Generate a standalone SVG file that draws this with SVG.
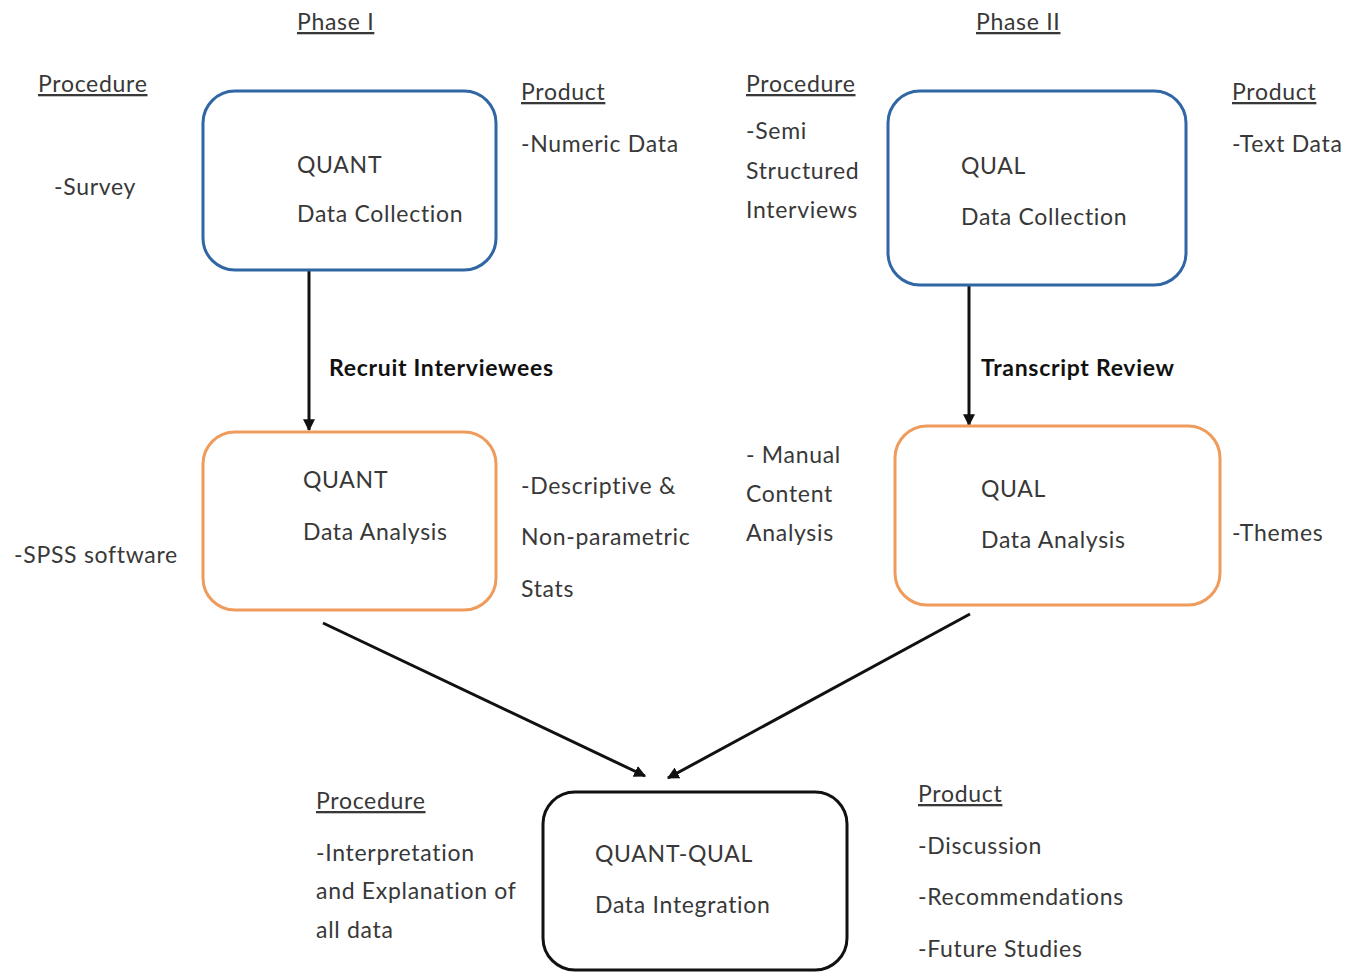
<svg xmlns="http://www.w3.org/2000/svg" width="1359" height="972" viewBox="0 0 1359 972">
<style>
text{font-family:Lato,"Open Sans","Liberation Sans",sans-serif;font-size:23px;letter-spacing:0.7px;fill:#383838}
.u{text-decoration:underline}
.b{font-weight:bold;fill:#111}
.blue{fill:#fff;stroke:#2f66a3;stroke-width:3}
.orange{fill:#fff;stroke:#ee9b5c;stroke-width:3}
.black{fill:#fff;stroke:#111;stroke-width:3}
.c{stroke:#111;stroke-width:3;fill:none;marker-end:url(#ah)}
</style>
<defs>
<marker id="ah" viewBox="0 0 10 10" refX="9" refY="5" markerWidth="4" markerHeight="4" orient="auto" markerUnits="strokeWidth">
<path d="M0,0 L10,5 L0,10 z" fill="#111"/>
</marker>
</defs>
<rect width="1359" height="972" fill="#fff"/>
<g id="headings">
<text x="297" y="30" class="u">Phase I</text>
<text x="976" y="30" class="u">Phase II</text>
</g>
<g id="annotations">
<text x="38" y="92" class="u">Procedure</text>
<text x="54" y="195">-Survey</text>
<text x="521" y="100" class="u">Product</text>
<text x="521" y="152">-Numeric Data</text>
<text x="746" y="92" class="u">Procedure</text>
<text x="746" y="139">-Semi</text>
<text x="746" y="179">Structured</text>
<text x="746" y="218">Interviews</text>
<text x="1232" y="100" class="u">Product</text>
<text x="1232" y="152">-Text Data</text>
<text x="14" y="563">-SPSS software</text>
<text x="521" y="494">-Descriptive &amp;</text>
<text x="521" y="545">Non-parametric</text>
<text x="521" y="597">Stats</text>
<text x="746" y="463">- Manual</text>
<text x="746" y="502">Content</text>
<text x="746" y="541">Analysis</text>
<text x="1232" y="541">-Themes</text>
<text x="316" y="809" class="u">Procedure</text>
<text x="316" y="861">-Interpretation</text>
<text x="316" y="899">and Explanation of</text>
<text x="316" y="938">all data</text>
<text x="918" y="802" class="u">Product</text>
<text x="918" y="854">-Discussion</text>
<text x="918" y="905">-Recommendations</text>
<text x="918" y="957">-Future Studies</text>
</g>
<g id="connectors">
<line x1="309" y1="270" x2="309" y2="430" class="c"/>
<line x1="969" y1="285" x2="969" y2="425" class="c"/>
<line x1="323" y1="623" x2="645" y2="776" class="c"/>
<line x1="970" y1="614" x2="668" y2="778" class="c"/>
<text x="329" y="376" class="b">Recruit Interviewees</text>
<text x="981" y="376" class="b">Transcript Review</text>
</g>
<g id="quant-collection">
<rect x="203" y="91" width="293" height="179" rx="32" class="blue"/>
<text x="297" y="173">QUANT</text>
<text x="297" y="222">Data Collection</text>
</g>
<g id="qual-collection">
<rect x="888" y="91" width="298" height="194" rx="32" class="blue"/>
<text x="961" y="174">QUAL</text>
<text x="961" y="225">Data Collection</text>
</g>
<g id="quant-analysis">
<rect x="203" y="432" width="293" height="178" rx="32" class="orange"/>
<text x="303" y="488">QUANT</text>
<text x="303" y="540">Data Analysis</text>
</g>
<g id="qual-analysis">
<rect x="895" y="426" width="325" height="179" rx="32" class="orange"/>
<text x="981" y="497">QUAL</text>
<text x="981" y="548">Data Analysis</text>
</g>
<g id="integration">
<rect x="543" y="792" width="304" height="178" rx="32" class="black"/>
<text x="595" y="862">QUANT-QUAL</text>
<text x="595" y="913">Data Integration</text>
</g>
</svg>
